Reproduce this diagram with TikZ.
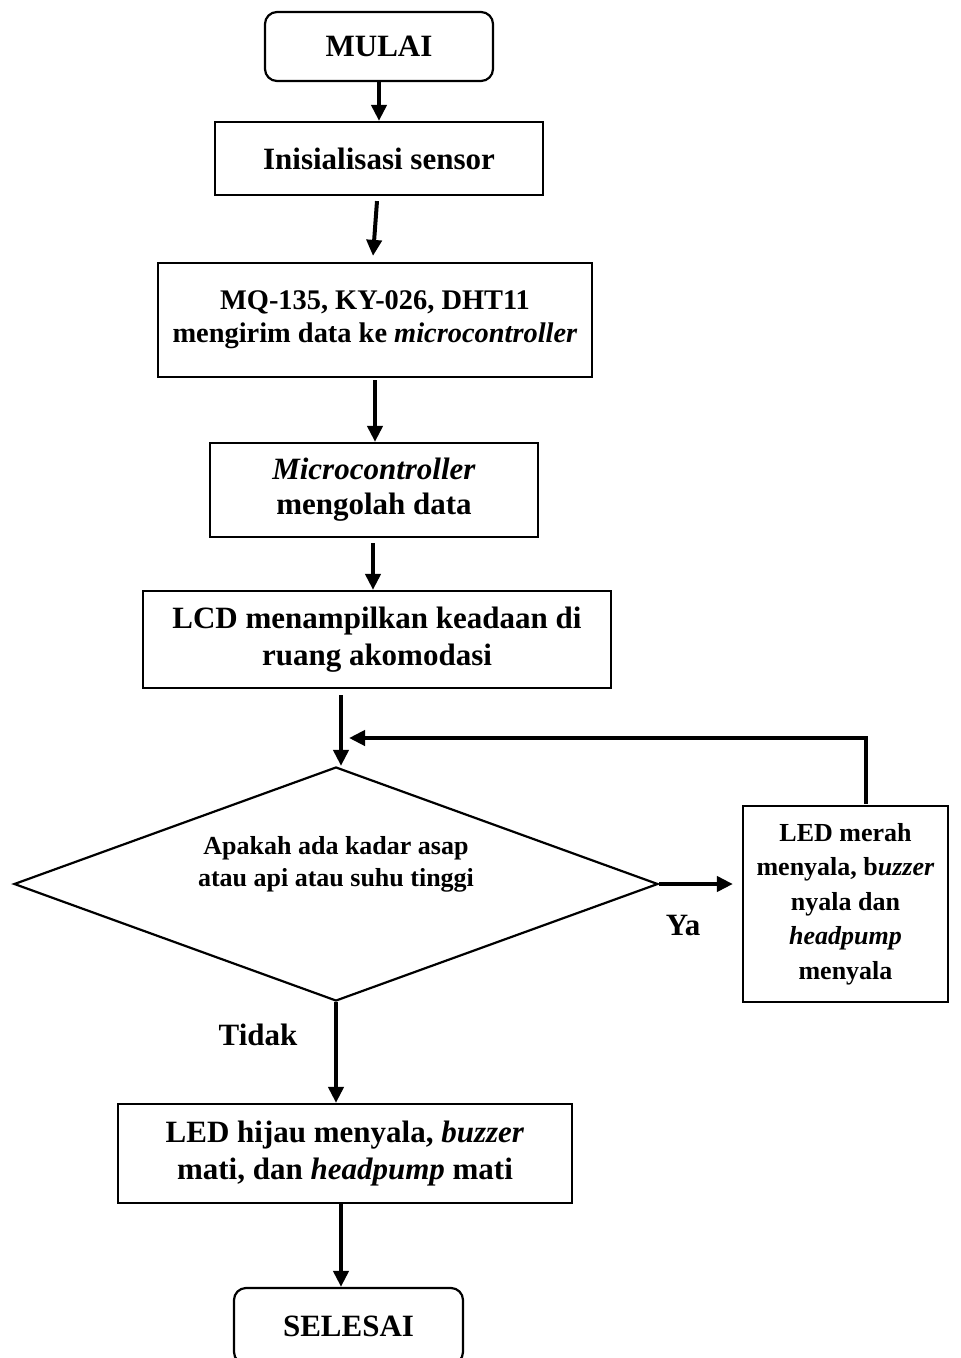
\documentclass[tikz,border=0pt]{standalone}
\usepackage{fontspec}
\setmainfont{Liberation Serif}
\usetikzlibrary{shapes.geometric,arrows.meta,calc}

\begin{document}
\begin{tikzpicture}[x=1pt,y=-1pt,line width=2.2pt,
    box/.style={draw, rectangle, align=center, inner sep=0pt},
    term/.style={box, rounded corners=12pt},
    decision/.style={draw, diamond, inner sep=0pt, minimum width=644pt, minimum height=234pt},
    arr/.style={line width=4pt, -{Triangle[length=16pt,width=15pt]}},
    garis/.style={line width=4pt},
    besar/.style={font=\fontsize{31}{37}\selectfont\bfseries},
    sedang/.style={font=\fontsize{28.4}{33}\selectfont\bfseries},
    kecil/.style={font=\fontsize{26}{34.5}\selectfont\bfseries}]
    \useasboundingbox (0,0) rectangle (961,1358);
    \clip (0,0) rectangle (961,1358);
    % kotak proses
    \node[term, besar, minimum width=228pt, minimum height=69pt] (mulai) at (379,46.5) {MULAI};
    \node[box, besar, minimum width=328pt, minimum height=73pt] (init) at (379,158.5) {Inisialisasi sensor};
    \node[box, sedang, minimum width=434pt, minimum height=114pt] (mq) at (375,320)
        {MQ-135, KY-026, DHT11\\mengirim data ke \textit{microcontroller}};
    \node[box, besar, font=\fontsize{31}{35}\selectfont\bfseries, minimum width=328pt, minimum height=94pt] (olah) at (374,490)
        {\textit{Microcontroller}\\mengolah data};
    \node[box, besar, minimum width=468pt, minimum height=97pt] (lcd) at (377,639.5)
        {LCD menampilkan keadaan di\\ruang akomodasi};
    % keputusan
    \node[decision] (cek) at (336,884) {};
    \node[kecil, font=\fontsize{26}{32}\selectfont\bfseries, align=center] (cektanya) at (336,864)
        {Apakah ada kadar asap\\atau api atau suhu tinggi};
    \node[box, kecil, minimum width=205pt, minimum height=196pt] (merah) at (845.5,904)
        {LED merah\\menyala, b\textit{uzzer}\\nyala dan\\\textit{headpump}\\menyala};
    \node[box, besar, minimum width=454pt, minimum height=99pt] (hijau) at (345,1153.5)
        {LED hijau menyala, \textit{buzzer}\\mati, dan \textit{headpump} mati};
    \node[term, besar, minimum width=229pt, minimum height=76pt] (selesai) at (348.5,1326) {SELESAI};
    \node[besar] (ya) at (683,925) {Ya};
    \node[besar] (tidak) at (258,1035) {Tidak};
    \coordinate (masuk) at (349,738);
    % panah
    \draw[arr] (mulai) -- (init);
    \draw[arr] ($(init.south)+(-2,5)$) -- ($(mq.north)+(-2,-6)$);
    \draw[arr] ($(mq.south)+(0,2)$) -- (mq.south |- olah.north);
    \draw[arr] ($(olah.south)+(-1,5)$) -- ($(olah.south |- lcd.north)+(-1,0)$);
    \draw[arr] ($(cek.north |- lcd.south)+(5,6)$) -- ($(cek.north)+(5,0)$);
    \draw[arr] ($(merah.north)+(20,-1)$) |- (masuk);
    \draw[arr] (cek.east) -- ($(cek.east -| merah.west)+(-9,0)$);
    \draw[arr] (cek.south) -- (cek.south |- hijau.north);
    \draw[arr] ($(hijau.south)+(-4,0)$) -- ($(selesai.north)+(-7.5,0)$);
\end{tikzpicture}
\end{document}
